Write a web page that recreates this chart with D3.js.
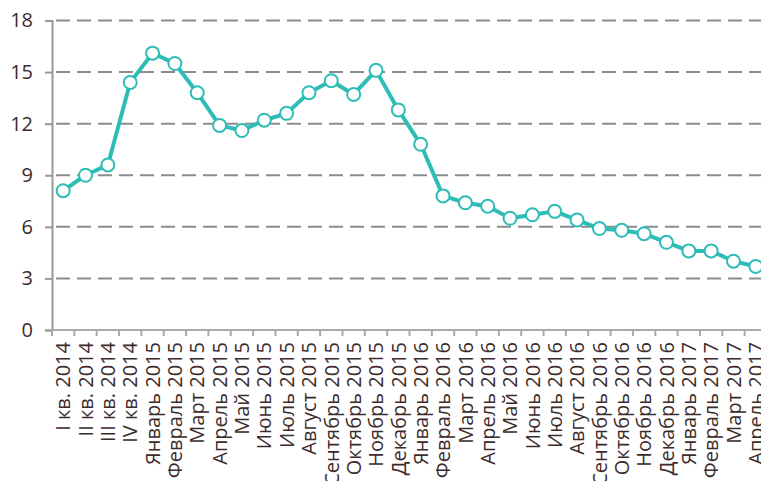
<!DOCTYPE html>
<html>
<head>
<meta charset="utf-8">
<script src="https://cdn.jsdelivr.net/npm/d3@7"></script>
<style>
  body { margin: 0; background: #fff; }
  svg text { font-family: "Open Sans", "Noto Sans", sans-serif; fill: #3d2b2b; }
</style>
</head>
<body>
<div id="chart"></div>
<script>
// categories along the x axis
const periods = [
    'I кв. 2014', 'II кв. 2014', 'III кв. 2014', 'IV кв. 2014',
    'Январь 2015', 'Февраль 2015', 'Март 2015', 'Апрель 2015', 'Май 2015', 'Июнь 2015',
    'Июль 2015', 'Август 2015', 'Сентябрь 2015', 'Октябрь 2015', 'Ноябрь 2015', 'Декабрь 2015',
    'Январь 2016', 'Февраль 2016', 'Март 2016', 'Апрель 2016', 'Май 2016', 'Июнь 2016',
    'Июль 2016', 'Август 2016', 'Сентябрь 2016', 'Октябрь 2016', 'Ноябрь 2016', 'Декабрь 2016',
    'Январь 2017', 'Февраль 2017', 'Март 2017', 'Апрель 2017'
];

// values
const values = [
    8.1, 9.0, 9.6, 14.4,
    16.1, 15.5, 13.8, 11.9, 11.6, 12.2,
    12.6, 13.8, 14.5, 13.7, 15.1, 12.8,
    10.8, 7.8, 7.4, 7.2, 6.5, 6.7,
    6.9, 6.4, 5.9, 5.8, 5.6, 5.1,
    4.6, 4.6, 4.0, 3.7
];

const yTicks = [0, 3, 6, 9, 12, 15, 18];

const width = 761, height = 481;
const plotLeft = 52, plotRight = 767, plotTop = 20.5, plotBottom = 330;

const svg = d3.select('#chart').append('svg')
    .attr('width', width)
    .attr('height', height);

const x = d3.scaleBand()
    .domain(periods)
    .range([plotLeft, plotRight]);

const y = d3.scaleLinear()
    .domain([0, 18])
    .range([plotBottom, plotTop]);

// dashed grid lines
svg.append('g')
    .selectAll('line')
    .data(yTicks.filter(d => d > 0))
    .enter()
    .append('line')
    .attr('x1', plotLeft + 4)
    .attr('x2', width)
    .attr('y1', d => y(d))
    .attr('y2', d => y(d))
    .attr('stroke', '#8c8c8c')
    .attr('stroke-width', 2)
    .attr('stroke-dasharray', '14,7');

// y axis
const yAxis = svg.append('g')
    .attr('transform', 'translate(' + plotLeft + ',0)')
    .call(d3.axisLeft(y).tickValues(yTicks).tickSize(7).tickPadding(12));
yAxis.select('.domain').attr('stroke', '#999').attr('stroke-width', 2);
yAxis.selectAll('.tick line').attr('stroke', '#999').attr('stroke-width', 2);
yAxis.selectAll('text').style('font-size', '20px').attr('fill', '#3d2b2b');

// x axis, ticks at the band edges
const xAxis = svg.append('g')
    .attr('transform', 'translate(0,' + plotBottom + ')');
xAxis.append('line')
    .attr('x1', plotLeft)
    .attr('x2', plotRight)
    .attr('stroke', '#aaa')
    .attr('stroke-width', 2);
xAxis.selectAll('.edge')
    .data(periods)
    .enter()
    .append('line')
    .attr('class', 'edge')
    .attr('x1', d => x(d))
    .attr('x2', d => x(d))
    .attr('y1', 0)
    .attr('y2', 6)
    .attr('stroke', '#aaa')
    .attr('stroke-width', 2);
xAxis.selectAll('.lbl')
    .data(periods)
    .enter()
    .append('text')
    .attr('class', 'lbl')
    .attr('transform', d => 'translate(' + (x(d) + x.bandwidth() / 2) + ',12) rotate(-90)')
    .attr('dy', '0.36em')
    .attr('text-anchor', 'end')
    .style('font-size', '20px')
    .text(d => d);

// line
const line = d3.line()
    .x((d, i) => x(periods[i]) + x.bandwidth() / 2)
    .y(d => y(d));

svg.append('path')
    .datum(values)
    .attr('d', line)
    .attr('fill', 'none')
    .attr('stroke', '#2dbdb6')
    .attr('stroke-width', 4)
    .attr('stroke-linejoin', 'round');

svg.selectAll('.dot')
    .data(values)
    .enter()
    .append('circle')
    .attr('class', 'dot')
    .attr('cx', (d, i) => x(periods[i]) + x.bandwidth() / 2)
    .attr('cy', d => y(d))
    .attr('r', 6.5)
    .attr('fill', '#fff')
    .attr('stroke', '#2dbdb6')
    .attr('stroke-width', 2);
</script>
</body>
</html>
